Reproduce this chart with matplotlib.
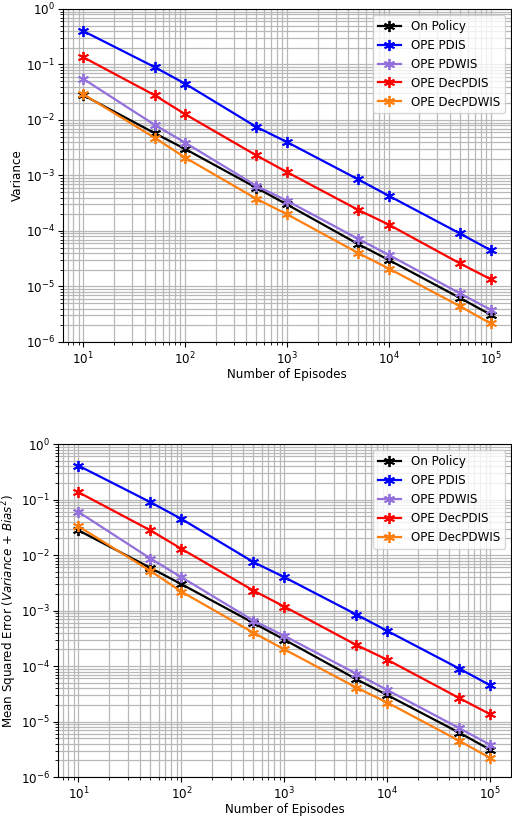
import numpy as np
import matplotlib
matplotlib.use("Agg")
import matplotlib.pyplot as plt

episodes = [10, 50, 100, 500, 1000, 5000, 10000, 50000, 100000]

labels = ["On Policy", "OPE PDIS", "OPE PDWIS", "OPE DecPDIS", "OPE DecPDWIS"]
colors = ["black", "blue", "mediumpurple", "red", "tab:orange"]

# Variance (top panel)
var_on = [0.028, 0.0058, 0.003, 0.0006, 0.0003, 5.8e-5, 3.0e-5, 6.2e-6, 3.1e-6]
var_pdis = [0.4, 0.09, 0.045, 0.0075, 0.004, 0.00085, 0.00043, 9.0e-5, 4.5e-5]
var_pdwis = [0.055, 0.0082, 0.0039, 0.00065, 0.00035, 7.2e-5, 3.7e-5, 7.5e-6, 3.8e-6]
var_decpdis = [0.135, 0.028, 0.0127, 0.0023, 0.00115, 0.00024, 0.00013, 2.6e-5, 1.35e-5]
var_decpdwis = [0.029, 0.0048, 0.0021, 0.00038, 0.0002, 4.0e-5, 2.1e-5, 4.4e-6, 2.15e-6]

# Mean squared error (bottom panel)
mse_on = [0.028, 0.0059, 0.003, 0.0006, 0.0003, 5.8e-5, 3.0e-5, 6.3e-6, 3.1e-6]
mse_pdis = [0.41, 0.09, 0.045, 0.0075, 0.004, 0.00085, 0.00043, 9.0e-5, 4.5e-5]
mse_pdwis = [0.06, 0.0087, 0.004, 0.00066, 0.00035, 7.3e-5, 3.7e-5, 7.6e-6, 3.8e-6]
mse_decpdis = [0.136, 0.028, 0.013, 0.0023, 0.00118, 0.00024, 0.00013, 2.65e-5, 1.35e-5]
mse_decpdwis = [0.033, 0.0052, 0.0022, 0.0004, 0.0002, 4.1e-5, 2.2e-5, 4.5e-6, 2.2e-6]

var_series = [var_on, var_pdis, var_pdwis, var_decpdis, var_decpdwis]
mse_series = [mse_on, mse_pdis, mse_pdwis, mse_decpdis, mse_decpdwis]

MARKER = (6, 2, 0)  # six-armed asterisk

plt.rcParams["font.size"] = 8.6


def panel(ax, series, ylabel):
    for vals, lab, col in zip(series, labels, colors):
        ax.plot(episodes, vals, color=col, marker=MARKER, markersize=8,
                markeredgewidth=1.3, lw=1.6, label=lab)
    ax.set_xscale("log")
    ax.set_yscale("log")
    ax.set_ylim(1e-6, 1)
    ax.grid(True, which="both", color="0.72", lw=0.9)
    ax.set_axisbelow(True)
    ax.tick_params(which="major", pad=2.5)
    ax.set_xlabel("Number of Episodes", labelpad=1)
    ax.set_ylabel(ylabel, labelpad=1)
    ax.legend(loc="upper right")


fig = plt.figure(figsize=(5.12, 8.18), dpi=100)
ax1 = fig.add_axes([0.123, 0.582, 0.875, 0.407])
ax2 = fig.add_axes([0.113, 0.050, 0.885, 0.407])
panel(ax1, var_series, "Variance")
panel(ax2, mse_series, r"Mean Squared Error ($Variance$ + $Bias^2$)")
fig.savefig("out.png", dpi=100)
